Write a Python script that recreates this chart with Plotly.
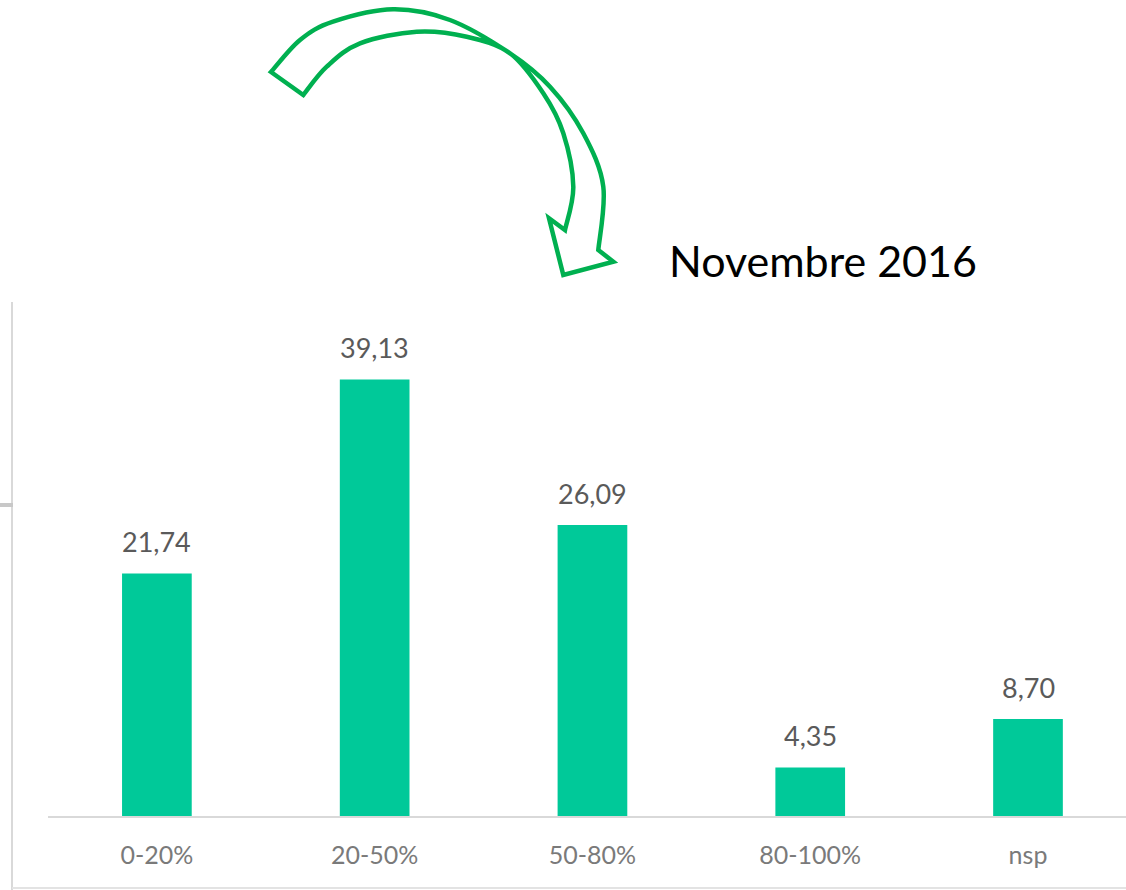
import plotly.graph_objects as go

categories = ["0-20%", "20-50%", "50-80%", "80-100%", "nsp"]
values = [21.74, 39.13, 26.09, 4.35, 8.70]
labels = ["21,74", "39,13", "26,09", "4,35", "8,70"]
title_text = "Novembre 2016"

W, H = 1126, 890
BAR = "#00C999"
GREEN = "#00B050"

def px(x, y):
    return x / W, 1 - y / H

def catmull(points):
    segs = []
    n = len(points)
    for i in range(n - 1):
        p0 = points[i - 1] if i > 0 else points[i]
        p1 = points[i]
        p2 = points[i + 1]
        p3 = points[i + 2] if i + 2 < n else points[i + 1]
        c1 = (p1[0] + (p2[0] - p0[0]) / 6, p1[1] + (p2[1] - p0[1]) / 6)
        c2 = (p2[0] - (p3[0] - p1[0]) / 6, p2[1] - (p3[1] - p1[1]) / 6)
        a = px(*c1); b = px(*c2); c = px(*p2)
        segs.append(f"C {a[0]:.5f},{a[1]:.5f} {b[0]:.5f},{b[1]:.5f} {c[0]:.5f},{c[1]:.5f}")
    return " ".join(segs)

outer = [(271, 72), (300, 40), (333, 21.7), (393, 9.3), (450, 20), (510, 53.3),
         (550, 86.7), (583.3, 133.3), (603.3, 186.7), (598.3, 250)]
head = [(613.3, 261.7), (563.3, 275), (549, 218.3), (565, 230)]
inner = [(565, 230), (573.3, 186.7), (563.3, 133.3), (543.3, 93.3), (510, 53.3),
         (466.7, 36.7), (416.7, 31.7), (360, 43.3), (326.7, 66.7), (303.3, 95)]

s = px(*outer[0])
path = f"M {s[0]:.5f},{s[1]:.5f} " + catmull(outer)
for p in head:
    q = px(*p)
    path += f" L {q[0]:.5f},{q[1]:.5f}"
path += " " + catmull(inner) + " Z"

fig = go.Figure()
fig.add_trace(go.Bar(x=categories, y=values, marker=dict(color=BAR, line=dict(width=0)),
                     width=0.32, showlegend=False, hoverinfo="skip"))

for c, v, t in zip(categories, values, labels):
    fig.add_annotation(x=c, y=v, text=t, showarrow=False, yanchor="bottom", yshift=13,
                       font=dict(family="Lato", size=27, color="#5a5a5a"))

shapes = [
    dict(type="path", xref="paper", yref="paper", path=path,
         line=dict(color=GREEN, width=4.5), fillcolor="rgba(0,0,0,0)"),
    dict(type="line", xref="paper", yref="paper", x0=12 / W, x1=12 / W, y0=1 - 302 / H, y1=0,
         line=dict(color="#d9d9d9", width=2)),
    dict(type="line", xref="paper", yref="paper", x0=12 / W, x1=1, y0=1 - 888 / H, y1=1 - 888 / H,
         line=dict(color="#e3e3e3", width=2)),
    dict(type="line", xref="paper", yref="paper", x0=0, x1=13 / W, y0=1 - 505 / H, y1=1 - 505 / H,
         line=dict(color="#c8c8c8", width=4)),
]

fig.add_annotation(xref="paper", yref="paper", x=823 / W, y=1 - 260 / H, text=title_text,
                   showarrow=False, xanchor="center", yanchor="middle",
                   font=dict(family="Lato", size=43, color="#000000"))

fig.update_layout(
    width=W, height=H,
    margin=dict(l=0, r=0, t=0, b=0),
    paper_bgcolor="white", plot_bgcolor="white",
    shapes=shapes,
    xaxis=dict(domain=[48 / W, 1], range=[-0.5, 4.45], showgrid=False, zeroline=False,
               showline=True, linecolor="#d9d9d9", linewidth=2, ticks="",
               tickfont=dict(family="Lato", size=25, color="#7a7a7a"),
               ticklabelstandoff=16),
    yaxis=dict(domain=[1 - 816 / H, 1 - 314 / H], range=[0, 45], visible=False),
    bargap=0.68,
)

fig.write_html("out.html", config={"displayModeBar": False},
               post_script="document.body.style.margin='0';document.body.style.overflow='hidden';")
